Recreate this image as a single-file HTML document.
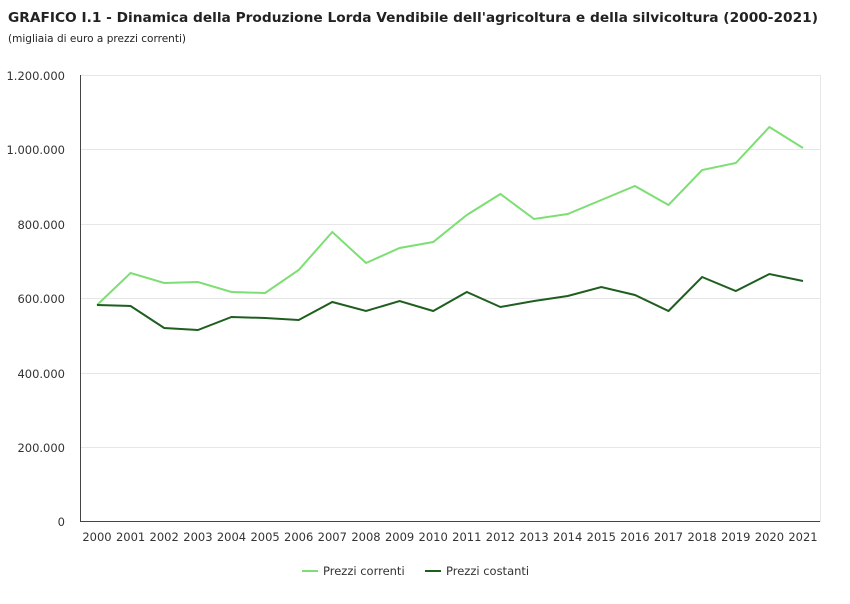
<!DOCTYPE html>
<html><head><meta charset="utf-8"><style>
body{margin:0;background:#fff;width:850px;height:600px;overflow:hidden;font-family:"DejaVu Sans",sans-serif}
</style></head><body>
<svg width="850" height="600" xmlns="http://www.w3.org/2000/svg" font-family="DejaVu Sans, Liberation Sans, sans-serif">
<text x="8" y="22" font-size="13.5" font-weight="bold" fill="#222" textLength="810" lengthAdjust="spacingAndGlyphs">GRAFICO I.1 - Dinamica della Produzione Lorda Vendibile dell'agricoltura e della silvicoltura (2000-2021)</text>
<text x="8" y="42" font-size="10.5" fill="#222" textLength="178" lengthAdjust="spacingAndGlyphs">(migliaia di euro a prezzi correnti)</text>
<g stroke="#e6e6e6" stroke-width="1">
<line x1="80" y1="75.5" x2="820" y2="75.5"/>
<line x1="80" y1="149.5" x2="820" y2="149.5"/>
<line x1="80" y1="224.5" x2="820" y2="224.5"/>
<line x1="80" y1="298.5" x2="820" y2="298.5"/>
<line x1="80" y1="373.5" x2="820" y2="373.5"/>
<line x1="80" y1="447.5" x2="820" y2="447.5"/>
<line x1="820.5" y1="75" x2="820.5" y2="522"/>
</g>
<line x1="80.5" y1="75" x2="80.5" y2="522" stroke="#444"/>
<line x1="80" y1="521.5" x2="820" y2="521.5" stroke="#444"/>
<g font-size="11.5" fill="#333" text-anchor="end">
<text x="65" y="80">1.200.000</text>
<text x="65" y="154">1.000.000</text>
<text x="65" y="229">800.000</text>
<text x="65" y="303">600.000</text>
<text x="65" y="378">400.000</text>
<text x="65" y="452">200.000</text>
<text x="65" y="526">0</text>
</g>
<g font-size="11.5" fill="#333" text-anchor="middle">
<text x="97" y="541">2000</text><text x="130.6" y="541">2001</text><text x="164.2" y="541">2002</text><text x="197.9" y="541">2003</text><text x="231.5" y="541">2004</text><text x="265.1" y="541">2005</text><text x="298.7" y="541">2006</text><text x="332.3" y="541">2007</text><text x="366" y="541">2008</text><text x="399.6" y="541">2009</text><text x="433.2" y="541">2010</text><text x="466.8" y="541">2011</text><text x="500.4" y="541">2012</text><text x="534.1" y="541">2013</text><text x="567.7" y="541">2014</text><text x="601.3" y="541">2015</text><text x="634.9" y="541">2016</text><text x="668.5" y="541">2017</text><text x="702.1" y="541">2018</text><text x="735.8" y="541">2019</text><text x="769.4" y="541">2020</text><text x="803" y="541">2021</text>
</g>
<polyline fill="none" stroke="#7ddf73" stroke-width="2" points="97,305 130.6,273 164.2,283 197.9,282 231.5,292 265.1,293 298.7,270 332.3,232 366,263 399.6,248 433.2,242 466.8,215 500.4,194 534.1,219 567.7,214 601.3,200 634.9,186 668.5,205 702.1,170 735.8,163 769.4,127 803,148"/>
<polyline fill="none" stroke="#1e5e1e" stroke-width="2" points="97,305 130.6,306 164.2,328 197.9,330 231.5,317 265.1,318 298.7,320 332.3,302 366,311 399.6,301 433.2,311 466.8,292 500.4,307 534.1,301 567.7,296 601.3,287 634.9,295 668.5,311 702.1,277 735.8,291 769.4,274 803,281"/>
<line x1="302" y1="571" x2="318" y2="571" stroke="#7ddf73" stroke-width="2"/>
<text x="323" y="575" font-size="11.5" fill="#333">Prezzi correnti</text>
<line x1="425" y1="571" x2="441" y2="571" stroke="#1e5e1e" stroke-width="2"/>
<text x="446" y="575" font-size="11.5" fill="#333">Prezzi costanti</text>
</svg>
</body></html>
